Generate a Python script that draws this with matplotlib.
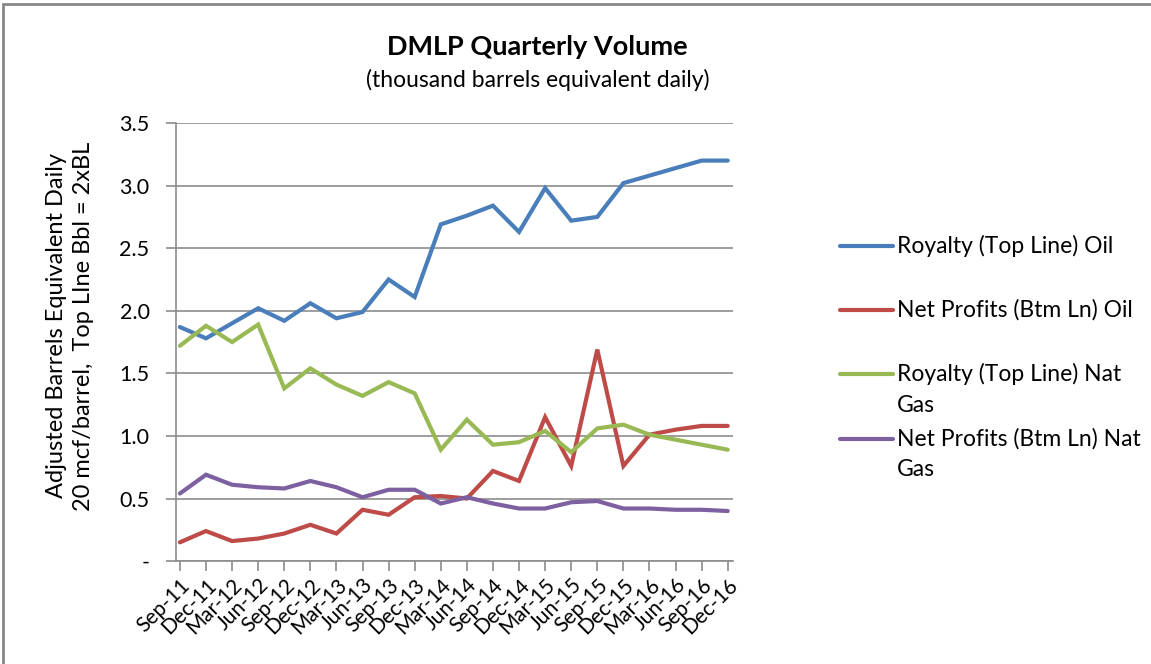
import matplotlib.pyplot as plt
from matplotlib.lines import Line2D
import numpy as np

quarters = ['Sep-11', 'Dec-11', 'Mar-12', 'Jun-12', 'Sep-12', 'Dec-12', 'Mar-13', 'Jun-13',
            'Sep-13', 'Dec-13', 'Mar-14', 'Jun-14', 'Sep-14', 'Dec-14', 'Mar-15', 'Jun-15',
            'Sep-15', 'Dec-15', 'Mar-16', 'Jun-16', 'Sep-16', 'Dec-16']

royalty_oil = [1.87, 1.78, 1.90, 2.02, 1.92, 2.06, 1.94, 1.99, 2.25, 2.11, 2.69, 2.76,
               2.84, 2.63, 2.98, 2.72, 2.75, 3.02, 3.08, 3.14, 3.20, 3.20]
net_profits_oil = [0.15, 0.24, 0.16, 0.18, 0.22, 0.29, 0.22, 0.41, 0.37, 0.51, 0.52, 0.50,
                   0.72, 0.64, 1.15, 0.76, 1.69, 0.76, 1.01, 1.05, 1.08, 1.08]
royalty_gas = [1.72, 1.88, 1.75, 1.89, 1.38, 1.54, 1.41, 1.32, 1.43, 1.34, 0.89, 1.13,
               0.93, 0.95, 1.04, 0.87, 1.06, 1.09, 1.01, 0.97, 0.93, 0.89]
net_profits_gas = [0.54, 0.69, 0.61, 0.59, 0.58, 0.64, 0.59, 0.51, 0.57, 0.57, 0.46, 0.51,
                   0.46, 0.42, 0.42, 0.47, 0.48, 0.42, 0.42, 0.41, 0.41, 0.40]

series = [
    ('Royalty (Top Line) Oil', royalty_oil, '#4a7ebb'),
    ('Net Profits (Btm Ln) Oil', net_profits_oil, '#be4b48'),
    ('Royalty (Top Line) Nat\nGas', royalty_gas, '#98b954'),
    ('Net Profits (Btm Ln) Nat\nGas', net_profits_gas, '#7d60a0'),
]

plt.rcParams['font.family'] = ['Lato', 'DejaVu Sans']

W, H = 1151, 664
fig = plt.figure(figsize=(W / 100, H / 100), dpi=100)
ax = fig.add_axes([0.1529, 0.155, 0.4839, 0.6597])

x = np.arange(len(quarters))
for name, vals, color in series:
    ax.plot(x, vals, color=color, lw=3, solid_capstyle='round', solid_joinstyle='miter')

ax.set_ylim(0, 3.5)
ax.set_yticks(np.arange(0, 3.51, 0.5))
ax.set_yticklabels(['-'] + [f'{v:.1f}' for v in np.arange(0.5, 3.51, 0.5)], fontsize=15.5)
ax.set_xlim(-0.15, 21.2)
ax.set_xticks(x)
ax.set_xticklabels(quarters, rotation=45, ha='right', rotation_mode='anchor', fontsize=15)

ax.grid(axis='y', color='#8c8c8c', lw=1.2)
ax.set_axisbelow(True)
for s in ['top', 'right']:
    ax.spines[s].set_visible(False)
for s in ['left', 'bottom']:
    ax.spines[s].set_color('#8c8c8c')
    ax.spines[s].set_linewidth(1.2)
ax.tick_params(axis='both', color='#8c8c8c', width=1.2, length=7, direction='out')
ax.tick_params(axis='y', pad=12)
ax.tick_params(axis='x', pad=3)

fig.text(70 / W, 1 - 326 / H, 'Adjusted Barrels Equivalent Daily\n20 mcf/barrel,  Top LIne Bbl = 2xBL',
         rotation=90, ha='center', va='center', fontsize=17, linespacing=1.3)

fig.text(0.467, 0.929, 'DMLP Quarterly Volume', ha='center', va='center', fontsize=19.5, fontweight='bold')
fig.text(0.467, 0.879, '(thousand barrels equivalent daily)', ha='center', va='center', fontsize=16.5)

# legend drawn by hand: handle sits on the first text line, like Excel does
legend_y = [246, 310, 374, 439]
for (name, vals, color), ly in zip(series, legend_y):
    fig.add_artist(Line2D([840 / W, 893 / W], [1 - ly / H] * 2, transform=fig.transFigure,
                          color=color, lw=3, solid_capstyle='round'))
    for i, line in enumerate(name.split('\n')):
        fig.text(897 / W, 1 - (ly + 31 * i) / H, line, ha='left', va='center', fontsize=16.5)

border = plt.Rectangle((0.003, -0.01), 1.2, 1.004, transform=fig.transFigure, fill=False,
                       edgecolor='#888888', lw=2)
fig.patches.append(border)

fig.savefig('out.png', dpi=100)
